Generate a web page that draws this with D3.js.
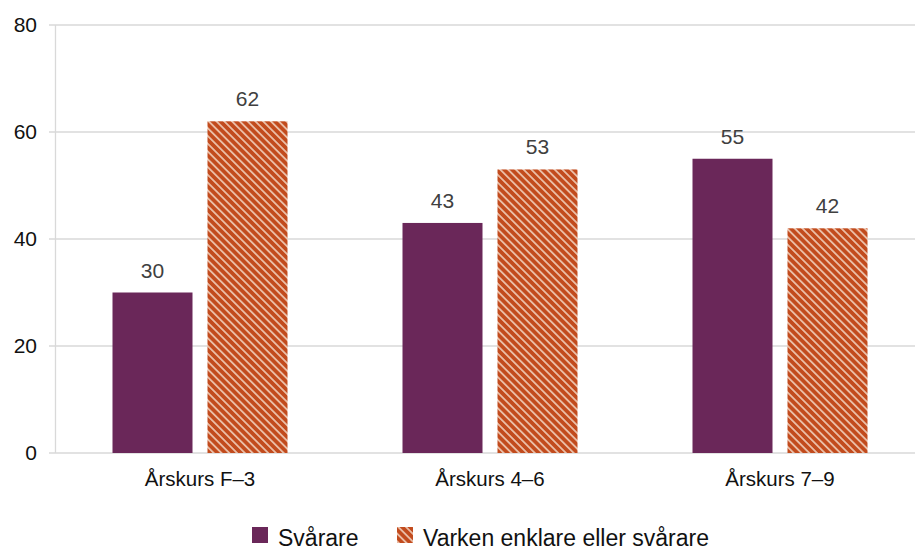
<!DOCTYPE html>
<html>
<head>
<meta charset="utf-8">
<script src="https://cdn.jsdelivr.net/npm/d3@7"></script>
<style>
  body { margin: 0; background: #fff; }
  svg { font-family: "Liberation Sans", Arial, sans-serif; }
</style>
</head>
<body>
<svg width="915" height="548"></svg>
<script>
// chart data
const categories = ['Årskurs F–3', 'Årskurs 4–6', 'Årskurs 7–9'];
const seriesNames = ['Svårare', 'Varken enklare eller svårare'];
const svarare = [30, 43, 55];
const varken = [62, 53, 42];
const yTicks = [0, 20, 40, 60, 80];

const svg = d3.select('svg');
const width = 915;
const purple = '#6a2759';
const orange = '#c24b1d';

// stripe pattern for second series (diagonal, running down-right)
const defs = svg.append('defs');
const pat = defs.append('pattern')
  .attr('id', 'stripes')
  .attr('patternUnits', 'userSpaceOnUse')
  .attr('width', 5.5)
  .attr('height', 5.5)
  .attr('patternTransform', 'rotate(-45)');
pat.append('rect').attr('width', 5.5).attr('height', 5.5).attr('fill', orange);
pat.append('rect').attr('x', 0).attr('width', 1.8).attr('height', 5.5).attr('fill', '#ebbfa8');

const x0 = d3.scaleBand().domain(categories).range([55, 925]);
// two bars of ~80px with a 15px gap, centred in each band
const inner = 175;
const offset = (x0.bandwidth() - inner) / 2;
const x1 = d3.scaleBand().domain(seriesNames)
  .range([offset, offset + inner])
  .paddingInner(15 / 95).paddingOuter(0);

const y = d3.scaleLinear().domain([0, 80]).range([453, 25]);

// gridlines
svg.append('g')
  .selectAll('line')
  .data(yTicks)
  .join('line')
  .attr('x1', 49).attr('x2', width)
  .attr('y1', d => y(d)).attr('y2', d => y(d))
  .attr('stroke', '#d9d9d9').attr('stroke-width', 1.3);

// y axis line
svg.append('line')
  .attr('x1', 55.5).attr('x2', 55.5)
  .attr('y1', y(80)).attr('y2', y(0))
  .attr('stroke', '#d9d9d9').attr('stroke-width', 1.3);

// y tick labels
svg.append('g')
  .selectAll('text')
  .data(yTicks)
  .join('text')
  .attr('x', 37).attr('y', d => y(d) + 7)
  .attr('text-anchor', 'end')
  .attr('font-size', 21)
  .attr('fill', '#111')
  .text(d => d);

const rows = categories.map((c, i) => ({ cat: c, values: [svarare[i], varken[i]] }));

const groups = svg.append('g')
  .selectAll('g')
  .data(rows)
  .join('g')
  .attr('transform', d => `translate(${x0(d.cat)},0)`);

groups.selectAll('rect')
  .data(d => d.values.map((v, j) => ({ name: seriesNames[j], v, j })))
  .join('rect')
  .attr('x', d => x1(d.name))
  .attr('width', x1.bandwidth())
  .attr('y', d => y(d.v))
  .attr('height', d => y(0) - y(d.v))
  .attr('fill', d => d.j === 0 ? purple : 'url(#stripes)');

// value labels
groups.selectAll('text')
  .data(d => d.values.map((v, j) => ({ name: seriesNames[j], v })))
  .join('text')
  .attr('x', d => x1(d.name) + x1.bandwidth() / 2)
  .attr('y', d => y(d.v) - 15)
  .attr('text-anchor', 'middle')
  .attr('font-size', 21)
  .attr('fill', '#404040')
  .text(d => d.v);

// category labels
svg.append('g')
  .selectAll('text')
  .data(categories)
  .join('text')
  .attr('x', d => x0(d) + x0.bandwidth() / 2)
  .attr('y', 486)
  .attr('text-anchor', 'middle')
  .attr('font-size', 20.5)
  .attr('fill', '#111')
  .text(d => d);

// legend
const legendX = [252, 397];
const legend = svg.append('g')
  .selectAll('g')
  .data(seriesNames)
  .join('g')
  .attr('transform', (d, i) => `translate(${legendX[i]},527)`);
legend.append('rect')
  .attr('width', 16).attr('height', 16)
  .attr('fill', (d, i) => i === 0 ? purple : 'url(#stripes)');
legend.append('text')
  .attr('x', 26).attr('y', 19)
  .attr('font-size', 23)
  .attr('fill', '#111')
  .text(d => d);
</script>
</body>
</html>
